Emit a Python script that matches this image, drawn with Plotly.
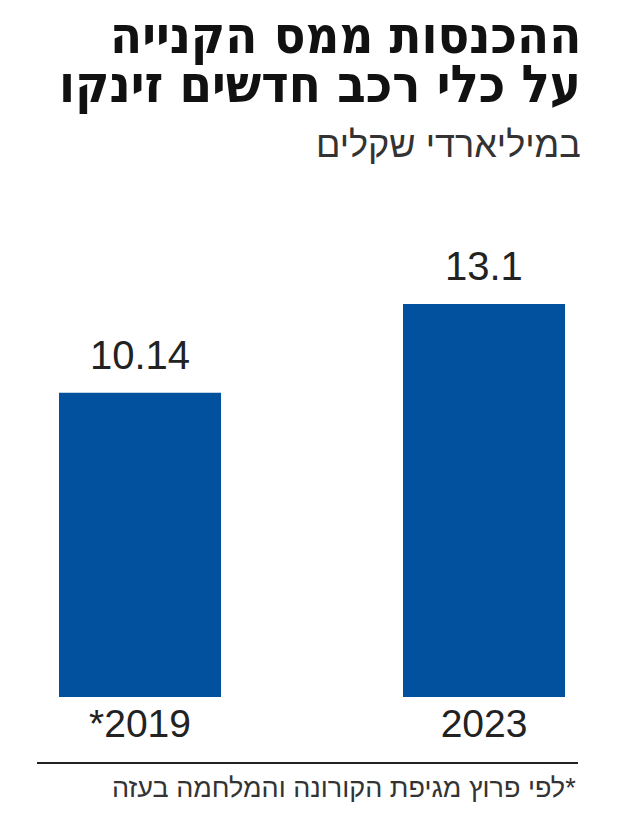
import plotly.graph_objects as go

W, H = 634, 818

categories = ["*2019", "2023"]
values = [10.14, 13.1]
value_labels = ["10.14", "13.1"]

title_lines = ["ההכנסות ממס הקנייה", "על כלי רכב חדשים זינקו"]
subtitle = "במיליארדי שקלים"
footnote = "לפי פרוץ מגיפת הקורונה והמלחמה בעזה*"

BAR_COLOR = "#02519f"
NUM_FONT = "Liberation Sans Narrow, Liberation Sans, sans-serif"
HEB_FONT = "DejaVu Sans Condensed, DejaVu Sans, sans-serif"

def xp(px):
    return px / W

def yp(py):
    return 1 - py / H

base_px = 697
fig = go.Figure()
fig.add_trace(go.Bar(
    x=[0, 1], y=values, width=0.471,
    marker=dict(color=BAR_COLOR, line=dict(width=0)),
    hoverinfo="skip",
))

for i, (v, lab) in enumerate(zip(values, value_labels)):
    fig.add_annotation(x=i, y=v, xref="x", yref="y", text=lab, showarrow=False,
                       yanchor="bottom", yshift=14,
                       font=dict(family=NUM_FONT, size=40, color="#222222"))

anns = [
    dict(text=title_lines[0], y=yp(3), size=52, color="#111111", family=HEB_FONT, bold=True),
    dict(text=title_lines[1], y=yp(52), size=52, color="#111111", family=HEB_FONT, bold=True),
    dict(text=subtitle, y=yp(122), size=36, color="#333333", family="Liberation Sans, sans-serif", bold=False),
]
for a in anns:
    txt = f"<b>{a['text']}</b>" if a["bold"] else a["text"]
    fig.add_annotation(x=xp(583), y=a["y"], xref="paper", yref="paper", text=txt,
                       showarrow=False, xanchor="right", yanchor="top",
                       font=dict(family=a["family"], size=a["size"], color=a["color"]))

fig.add_annotation(x=xp(578), y=yp(771), xref="paper", yref="paper", text=footnote,
                   showarrow=False, xanchor="right", yanchor="top",
                   font=dict(family="Liberation Sans, sans-serif", size=27, color="#333333"))

fig.add_shape(type="line", xref="paper", yref="paper",
              x0=xp(37), x1=xp(578), y0=yp(763), y1=yp(763),
              line=dict(color="#222222", width=2))

px_per_unit = 344
fig.update_layout(
    width=W, height=H,
    margin=dict(l=0, r=0, t=0, b=0),
    paper_bgcolor="white", plot_bgcolor="white",
    showlegend=False,
    xaxis=dict(range=[-140 / px_per_unit, 1 + (W - 484) / px_per_unit],
               tickvals=[0, 1], ticktext=categories,
               tickfont=dict(family=NUM_FONT, size=39, color="#222222"),
               showgrid=False, zeroline=False, showline=False, ticks="",
               fixedrange=True),
    yaxis=dict(domain=[1 - base_px / H, 1], range=[0, base_px / 30.0],
               visible=False, fixedrange=True),
)

fig.write_html("out.html")
